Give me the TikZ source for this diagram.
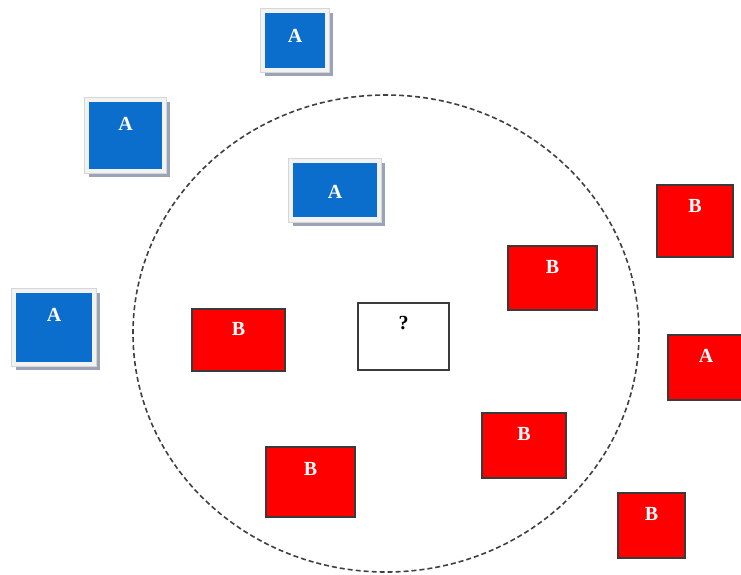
\documentclass[tikz,border=0pt]{standalone}
\usepackage{fontspec}
\setmainfont{Liberation Serif}
\usetikzlibrary{shapes.geometric}
\definecolor{bluefill}{HTML}{0B6DCC}
\definecolor{framefill}{HTML}{F2F2F2}
\definecolor{frameline}{HTML}{D6D6D6}
\definecolor{shadowc}{HTML}{9AA4B6}
\definecolor{redfill}{HTML}{FF0000}
\definecolor{redline}{HTML}{3A3A3A}
\tikzset{
  shadowbox/.style={fill=shadowc, draw=none, inner sep=0, rectangle},
  framebox/.style={fill=framefill, draw=frameline, line width=0.5pt, inner sep=0, rectangle},
  bluebox/.style={fill=bluefill, draw=none, inner sep=0, rectangle},
  redbox/.style={fill=redfill, draw=redline, line width=1.2pt, inner sep=0, rectangle},
  qbox/.style={fill=white, draw=redline, line width=1.2pt, inner sep=0, rectangle},
  lbl/.style={text=white, font=\fontsize{20}{20}\selectfont\bfseries, inner sep=0, anchor=center},
  qlbl/.style={text=black, font=\fontsize{20}{20}\selectfont\bfseries, inner sep=0, anchor=center},
  ring/.style={draw=black!75, line width=1.6pt, dash pattern=on 5pt off 3pt, ellipse, inner sep=0}
}
\begin{document}
\begin{tikzpicture}[x=1pt,y=-1pt]
\useasboundingbox (0,0) rectangle (741,575);
% dashed neighbourhood
\node[ring, minimum width=506pt, minimum height=477pt] (ring) at (386,333.5) {};
% blue A boxes (framed, with shadow)
% A1
\node[shadowbox, minimum width=68pt, minimum height=63pt] (a1s) at (299,44.5) {};
\node[framebox, minimum width=69pt, minimum height=64pt] (a1f) at (295,40.5) {};
\node[bluebox, minimum width=60pt, minimum height=55pt] (a1) at (295,40.5) {};
\node[lbl] (a1t) at ([yshift=-23pt]a1.north) {A};
% A2
\node[shadowbox, minimum width=81pt, minimum height=75pt] (a2s) at (129.5,139.5) {};
\node[framebox, minimum width=82pt, minimum height=76pt] (a2f) at (125.5,135.5) {};
\node[bluebox, minimum width=73pt, minimum height=67pt] (a2) at (125.5,135.5) {};
\node[lbl] (a2t) at ([yshift=-22pt]a2.north) {A};
% A3
\node[shadowbox, minimum width=92pt, minimum height=63pt] (a3s) at (339,194) {};
\node[framebox, minimum width=93pt, minimum height=64pt] (a3f) at (335,190) {};
\node[bluebox, minimum width=84pt, minimum height=54pt] (a3) at (335,190) {};
\node[lbl] (a3t) at ([yshift=-29pt]a3.north) {A};
% A4
\node[shadowbox, minimum width=84pt, minimum height=77pt] (a4s) at (58,331.5) {};
\node[framebox, minimum width=85pt, minimum height=78pt] (a4f) at (54,327.5) {};
\node[bluebox, minimum width=76pt, minimum height=69pt] (a4) at (54,327.5) {};
\node[lbl] (a4t) at ([yshift=-22pt]a4.north) {A};
% red boxes
\node[redbox, minimum width=93pt, minimum height=62pt] (b1) at (238.5,340) {};
\node[lbl] (b1t) at ([yshift=-21pt]b1.north) {B};
\node[redbox, minimum width=89pt, minimum height=64pt] (b2) at (552.5,278) {};
\node[lbl] (b2t) at ([yshift=-22pt]b2.north) {B};
\node[redbox, minimum width=76pt, minimum height=72pt] (b3) at (695,221) {};
\node[lbl] (b3t) at ([yshift=-22pt]b3.north) {B};
\node[redbox, minimum width=78pt, minimum height=65pt] (ra) at (707,367.5) {};
\node[lbl] (rat) at ([xshift=-1pt,yshift=-21pt]ra.north) {A};
\node[redbox, minimum width=84pt, minimum height=65pt] (b4) at (524,445.5) {};
\node[lbl] (b4t) at ([yshift=-22pt]b4.north) {B};
\node[redbox, minimum width=89pt, minimum height=70pt] (b5) at (310.5,482) {};
\node[lbl] (b5t) at ([yshift=-23pt]b5.north) {B};
\node[redbox, minimum width=67pt, minimum height=65pt] (b6) at (651.5,525.5) {};
\node[lbl] (b6t) at ([yshift=-22pt]b6.north) {B};
% query box
\node[qbox, minimum width=91pt, minimum height=67pt] (q) at (403.5,336.5) {};
\node[qlbl] (qt) at ([yshift=-21pt]q.north) {?};
\end{tikzpicture}
\end{document}
